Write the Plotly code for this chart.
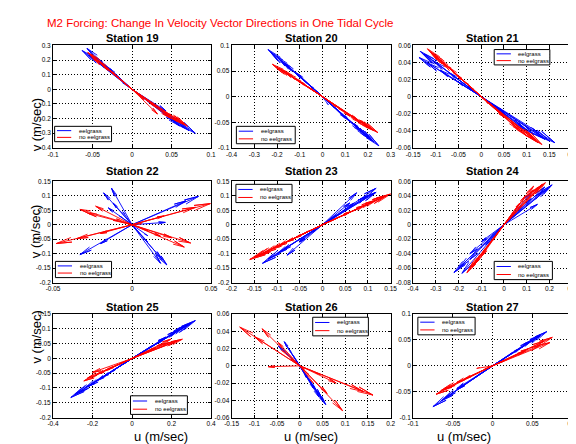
import numpy as np
import plotly.graph_objects as go

# velocity vector tips (m/sec) over one M2 tidal cycle
stations = [19, 20, 21, 22, 23, 24, 25, 26, 27]

st19_eel_u = [0.080, 0.072, 0.066, 0.055, 0.043, 0.025, 0.008, -0.012, -0.028, -0.042, -0.055, -0.063, -0.057, -0.048, -0.033, -0.015, 0.010, 0.035, 0.060]
st19_eel_v = [-0.300, -0.282, -0.262, -0.225, -0.148, -0.090, -0.030, 0.045, 0.140, 0.190, 0.235, 0.265, 0.280, 0.225, 0.160, 0.070, -0.040, -0.135, -0.250]
st19_no_u = [0.070, 0.066, 0.058, 0.048, 0.032, 0.015, -0.005, -0.022, -0.038, -0.050, -0.056, -0.052, -0.042, -0.028, -0.010, 0.012, 0.030, 0.050, 0.064]
st19_no_v = [-0.252, -0.240, -0.220, -0.195, -0.168, -0.070, 0.020, 0.100, 0.170, 0.220, 0.252, 0.240, 0.195, 0.130, 0.045, -0.050, -0.120, -0.200, -0.235]

st20_eel_u = [0.248, 0.225, 0.200, 0.180, 0.120, 0.060, 0.026, -0.050, -0.110, -0.165, -0.200, -0.239, -0.225, -0.180, -0.120, -0.050, 0.030, 0.100, 0.170, 0.215]
st20_eel_v = [-0.096, -0.088, -0.080, -0.072, -0.048, -0.024, -0.016, 0.020, 0.045, 0.065, 0.078, 0.092, 0.086, 0.070, 0.048, 0.020, -0.012, -0.042, -0.068, -0.085]
st20_no_u = [0.243, 0.225, 0.200, 0.170, 0.120, 0.060, 0.010, -0.040, -0.100, -0.150, -0.190, -0.220, -0.205, -0.170, -0.120, -0.060, 0.020, 0.090, 0.160, 0.210]
st20_no_v = [-0.070, -0.066, -0.060, -0.052, -0.038, -0.020, -0.004, 0.012, 0.030, 0.045, 0.055, 0.063, 0.058, 0.050, 0.036, 0.018, -0.006, -0.028, -0.048, -0.062]

st21_eel_u = [0.162, 0.150, 0.135, 0.115, 0.090, 0.055, 0.015, -0.030, -0.070, -0.105, -0.125, -0.134, -0.137, -0.120, -0.090, -0.050, 0.000, 0.050, 0.100, 0.140]
st21_eel_v = [-0.054, -0.052, -0.048, -0.044, -0.036, -0.022, -0.006, 0.012, 0.028, 0.042, 0.050, 0.053, 0.046, 0.040, 0.031, 0.017, 0.000, -0.018, -0.040, -0.050]
st21_no_u = [0.133, 0.125, 0.115, 0.100, 0.080, 0.050, 0.015, -0.020, -0.055, -0.085, -0.105, -0.118, -0.110, -0.095, -0.070, -0.035, 0.010, 0.050, 0.090, 0.120]
st21_no_v = [-0.056, -0.054, -0.050, -0.046, -0.038, -0.024, -0.008, 0.010, 0.026, 0.040, 0.050, 0.056, 0.052, 0.045, 0.034, 0.017, -0.004, -0.024, -0.042, -0.052]

st22_eel_u = [0.042, 0.034, 0.021, 0.004, -0.006, -0.012, -0.013, -0.018, -0.015, -0.008, 0.002, 0.010, 0.018, 0.022, 0.019, 0.010, -0.033, -0.020]
st22_eel_v = [0.098, 0.082, 0.008, 0.004, 0.045, 0.075, 0.126, 0.110, 0.058, 0.030, -0.015, -0.060, -0.133, -0.139, -0.120, -0.038, -0.103, -0.065]
st22_no_u = [0.0495, 0.040, 0.020, 0.006, -0.010, -0.023, -0.033, -0.028, -0.012, 0.010, 0.025, 0.037, 0.033, 0.018, -0.020, -0.048, -0.035]
st22_no_v = [0.073, 0.060, 0.030, 0.004, 0.020, 0.064, 0.053, 0.040, 0.015, -0.020, -0.045, -0.063, -0.077, -0.040, -0.030, -0.065, -0.048]

st23_eel_u = [0.118, 0.115, 0.100, 0.075, 0.060, 0.030, 0.005, -0.020, -0.050, -0.078, -0.100, -0.132, -0.120, -0.090, -0.050, -0.010, 0.030, 0.070, 0.100, 0.118]
st23_eel_v = [0.126, 0.110, 0.100, 0.110, 0.075, 0.035, 0.006, -0.025, -0.060, -0.105, -0.100, -0.133, -0.118, -0.090, -0.055, -0.012, 0.030, 0.075, 0.100, 0.112]
st23_no_u = [0.150, 0.140, 0.120, 0.095, 0.060, 0.020, -0.020, -0.060, -0.100, -0.130, -0.150, -0.160, -0.145, -0.115, -0.080, -0.040, 0.010, 0.060, 0.110, 0.140]
st23_no_v = [0.106, 0.100, 0.086, 0.068, 0.043, 0.014, -0.015, -0.045, -0.075, -0.098, -0.112, -0.120, -0.108, -0.086, -0.060, -0.030, 0.007, 0.044, 0.080, 0.100]

st24_eel_u = [0.212, 0.195, 0.170, 0.147, 0.120, 0.080, 0.030, -0.030, -0.098, -0.150, -0.185, -0.220, -0.200, -0.150, -0.080, -0.020, 0.050, 0.120, 0.180]
st24_eel_v = [0.055, 0.050, 0.046, 0.028, 0.036, 0.026, 0.010, -0.010, -0.023, -0.048, -0.067, -0.066, -0.060, -0.040, -0.028, -0.006, 0.018, 0.044, 0.052]
st24_no_u = [0.182, 0.170, 0.150, 0.130, 0.095, 0.060, 0.020, -0.020, -0.060, -0.100, -0.127, -0.150, -0.163, -0.140, -0.100, -0.050, 0.010, 0.070, 0.130, 0.165]
st24_no_v = [0.058, 0.056, 0.052, 0.053, 0.040, 0.026, 0.008, -0.008, -0.025, -0.042, -0.053, -0.060, -0.066, -0.058, -0.044, -0.022, 0.004, 0.030, 0.048, 0.055]

st25_eel_u = [0.320, 0.300, 0.270, 0.230, 0.170, 0.100, 0.030, -0.040, -0.110, -0.180, -0.240, -0.290, -0.310, -0.280, -0.220, -0.150, -0.070, 0.010, 0.090, 0.170, 0.240, 0.290]
st25_eel_v = [0.128, 0.120, 0.110, 0.095, 0.072, 0.043, 0.012, -0.018, -0.047, -0.076, -0.100, -0.122, -0.132, -0.118, -0.094, -0.064, -0.030, 0.004, 0.038, 0.070, 0.098, 0.116]
st25_no_u = [0.254, 0.230, 0.195, 0.160, 0.110, 0.060, 0.010, -0.040, -0.090, -0.140, -0.200, -0.244, -0.225, -0.180, -0.120, -0.060, 0.000, 0.060, 0.120, 0.180, 0.220]
st25_no_v = [0.065, 0.060, 0.065, 0.050, 0.034, 0.019, 0.003, -0.012, -0.027, -0.042, -0.047, -0.076, -0.066, -0.054, -0.036, -0.018, 0.000, 0.018, 0.036, 0.052, 0.058]

st26_eel_u = [0.057, 0.050, 0.046, 0.035, 0.020, 0.005, -0.010, -0.025, -0.034, -0.047, -0.040, -0.028, -0.015, 0.000, 0.015, 0.030, 0.042]
st26_eel_v = [-0.045, -0.040, -0.035, -0.028, -0.016, -0.004, 0.008, 0.020, 0.028, 0.023, 0.020, 0.022, 0.012, -0.002, -0.014, -0.026, -0.036]
st26_no_u = [0.161, 0.094, 0.060, 0.030, 0.010, -0.020, -0.047, -0.083, -0.132, -0.100, -0.069, -0.040, -0.010, 0.020, 0.045, 0.080, 0.140]
st26_no_v = [-0.034, -0.052, -0.032, -0.020, -0.004, 0.008, 0.027, 0.043, 0.045, 0.034, -0.001, 0.018, 0.004, -0.010, -0.010, -0.020, -0.030]

st27_eel_u = [0.068, 0.060, 0.050, 0.035, 0.015, -0.005, -0.025, -0.045, -0.060, -0.075, -0.065, -0.045, -0.020, 0.005, 0.025, 0.045, 0.060]
st27_eel_v = [0.066, 0.060, 0.050, 0.034, 0.014, -0.006, -0.026, -0.046, -0.062, -0.079, -0.068, -0.044, -0.020, 0.004, 0.026, 0.046, 0.058]
st27_no_u = [0.075, 0.072, 0.060, 0.040, 0.015, -0.020, -0.045, -0.065, -0.071, -0.060, -0.035, -0.010, 0.020, 0.045, 0.065]
st27_no_v = [0.055, 0.045, 0.040, 0.028, 0.010, -0.005, -0.032, -0.048, -0.055, -0.044, -0.025, -0.006, 0.014, 0.033, 0.048]

eelgrass = [(st19_eel_u, st19_eel_v), (st20_eel_u, st20_eel_v), (st21_eel_u, st21_eel_v),
            (st22_eel_u, st22_eel_v), (st23_eel_u, st23_eel_v), (st24_eel_u, st24_eel_v),
            (st25_eel_u, st25_eel_v), (st26_eel_u, st26_eel_v), (st27_eel_u, st27_eel_v)]
no_eelgrass = [(st19_no_u, st19_no_v), (st20_no_u, st20_no_v), (st21_no_u, st21_no_v),
               (st22_no_u, st22_no_v), (st23_no_u, st23_no_v), (st24_no_u, st24_no_v),
               (st25_no_u, st25_no_v), (st26_no_u, st26_no_v), (st27_no_u, st27_no_v)]

# axis limits and tick steps per station
x_lims = [(-0.1, 0.1), (-0.4, 0.3), (-0.15, 0.2), (-0.05, 0.05), (-0.2, 0.15),
          (-0.4, 0.3), (-0.4, 0.4), (-0.15, 0.2), (-0.1, 0.1)]
x_steps = [0.05, 0.1, 0.05, 0.05, 0.05, 0.1, 0.2, 0.05, 0.05]
y_lims = [(-0.4, 0.3), (-0.1, 0.1), (-0.06, 0.06), (-0.2, 0.15), (-0.2, 0.15),
          (-0.08, 0.06), (-0.2, 0.15), (-0.06, 0.06), (-0.1, 0.1)]
y_steps = [0.1, 0.05, 0.02, 0.05, 0.05, 0.02, 0.05, 0.02, 0.05]

# legend box corners in axes-domain units: x0, x1, y0, y1
legend_boxes = [(0.01, 0.37, 0.06, 0.21), (0.03, 0.40, 0.04, 0.21), (0.51, 0.86, 0.81, 0.96),
                (0.015, 0.37, 0.05, 0.21), (0.027, 0.38, 0.79, 0.97), (0.51, 0.876, 0.03, 0.21),
                (0.49, 0.85, 0.03, 0.21), (0.51, 0.86, 0.79, 0.97), (0.03, 0.39, 0.80, 0.97)]

W, H = 576, 444
col_px = [(39, 201), (222, 385), (408, 571)]
row_px = [(34, 138), (172, 275), (307, 412)]
title_px = [26, 162, 300]

FONT = "Liberation Sans, Arial, Helvetica, sans-serif"
BLUE, RED = "#0000FF", "#FF0000"


def compass(u, v, sx, sy):
    # arrows from the origin, heads shaped in screen space (narrow V)
    xs, ys = [], []
    for a, b in zip(u, v):
        pa, pb = a * sx, b * sy
        h1 = ((0.8 * pa - 0.03 * pb) / sx, (0.8 * pb + 0.03 * pa) / sy)
        h2 = ((0.8 * pa + 0.03 * pb) / sx, (0.8 * pb - 0.03 * pa) / sy)
        xs += [0, a, h1[0], a, h2[0], None]
        ys += [0, b, h1[1], b, h2[1], None]
    return xs, ys


def ticks(lo, hi, step):
    vals = np.round(np.arange(lo, hi + step / 2, step), 4)
    return list(vals), [f"{t:g}" if abs(t) > 1e-9 else "0" for t in vals]


fig = go.Figure()
annotations = []
shapes = []

for i, st in enumerate(stations):
    r, c = divmod(i, 3)
    n = i + 1
    xa = "x" if n == 1 else f"x{n}"
    ya = "y" if n == 1 else f"y{n}"
    x0p, x1p = col_px[c]
    y0p, y1p = row_px[r]
    sx = (x1p - x0p) / (x_lims[i][1] - x_lims[i][0])
    sy = (y1p - y0p) / (y_lims[i][1] - y_lims[i][0])

    for (u, v), col, name in [(eelgrass[i], BLUE, "eelgrass"), (no_eelgrass[i], RED, "no eelgrass")]:
        xs, ys = compass(u, v, sx, sy)
        fig.add_trace(go.Scatter(x=xs, y=ys, mode="lines", name=name, xaxis=xa, yaxis=ya,
                                 line=dict(color=col, width=0.9), showlegend=False,
                                 hoverinfo="skip"))

    xv, xt = ticks(*x_lims[i], x_steps[i])
    yv, yt = ticks(*y_lims[i], y_steps[i])
    common = dict(showline=True, linecolor="black", linewidth=1, mirror="ticks",
                  ticks="inside", ticklen=3, tickcolor="black", tickwidth=1,
                  showgrid=True, gridcolor="black", griddash="1px,2px", gridwidth=0.8,
                  zeroline=False, tickfont=dict(size=6.5, color="black", family=FONT))
    fig.layout[f"xaxis{'' if n == 1 else n}"] = dict(
        common, domain=[x0p / W, x1p / W], anchor=ya, range=list(x_lims[i]),
        tickvals=xv, ticktext=xt)
    fig.layout[f"yaxis{'' if n == 1 else n}"] = dict(
        common, domain=[1 - y1p / H, 1 - y0p / H], anchor=xa, range=list(y_lims[i]),
        tickvals=yv, ticktext=yt)

    annotations.append(dict(text=f"<b>Station {st}</b>", x=(x0p + x1p) / 2 / W, y=1 - title_px[r] / H,
                            xref="paper", yref="paper", showarrow=False, xanchor="center",
                            yanchor="middle", borderpad=0,
                            font=dict(size=11, color="black", family=FONT)))

    # small matlab-style legend drawn in the axes
    bx0, bx1, by0, by1 = legend_boxes[i]
    xd, yd = f"{xa} domain", f"{ya} domain"
    shapes.append(dict(type="rect", xref=xd, yref=yd, x0=bx0, x1=bx1, y0=by0, y1=by1,
                       fillcolor="white", line=dict(color="black", width=1)))
    hgt = by1 - by0
    for k, (col, name) in enumerate([(BLUE, "eelgrass"), (RED, "no eelgrass")]):
        yy = by1 - hgt * (0.28 + 0.44 * k)
        shapes.append(dict(type="line", xref=xd, yref=yd, x0=bx0 + 0.015, x1=bx0 + 0.105,
                           y0=yy, y1=yy, line=dict(color=col, width=1)))
        annotations.append(dict(text=name, xref=xd, yref=yd, x=bx0 + 0.14, y=yy,
                                showarrow=False, xanchor="left", yanchor="middle",
                                font=dict(size=6, color="black", family=FONT)))

# axis labels
for r in range(3):
    y0p, y1p = row_px[r]
    annotations.append(dict(text="v (m/sec)", x=12 / W, y=1 - (y0p + y1p) / 2 / H, xref="paper",
                            yref="paper", textangle=-90, showarrow=False,
                            font=dict(size=13, color="black", family=FONT)))
for c in range(3):
    x0p, x1p = col_px[c]
    annotations.append(dict(text="u (m/sec)", x=(x0p + x1p) / 2 / W, y=1 - 431 / H, xref="paper",
                            yref="paper", showarrow=False, yanchor="middle",
                            font=dict(size=13, color="black", family=FONT)))

annotations.append(dict(text="M2 Forcing: Change In Velocity Vector Directions in One Tidal Cycle",
                        x=32 / W, y=1 - 11 / H, xref="paper", yref="paper", showarrow=False,
                        xanchor="left", yanchor="middle", borderpad=0,
                        font=dict(size=11.5, color="#FF0000", family=FONT)))

fig.update_layout(width=W, height=H, margin=dict(l=0, r=0, t=0, b=0),
                  paper_bgcolor="white", plot_bgcolor="white",
                  annotations=annotations, shapes=shapes, showlegend=False)

fig.write_html("out.html")
